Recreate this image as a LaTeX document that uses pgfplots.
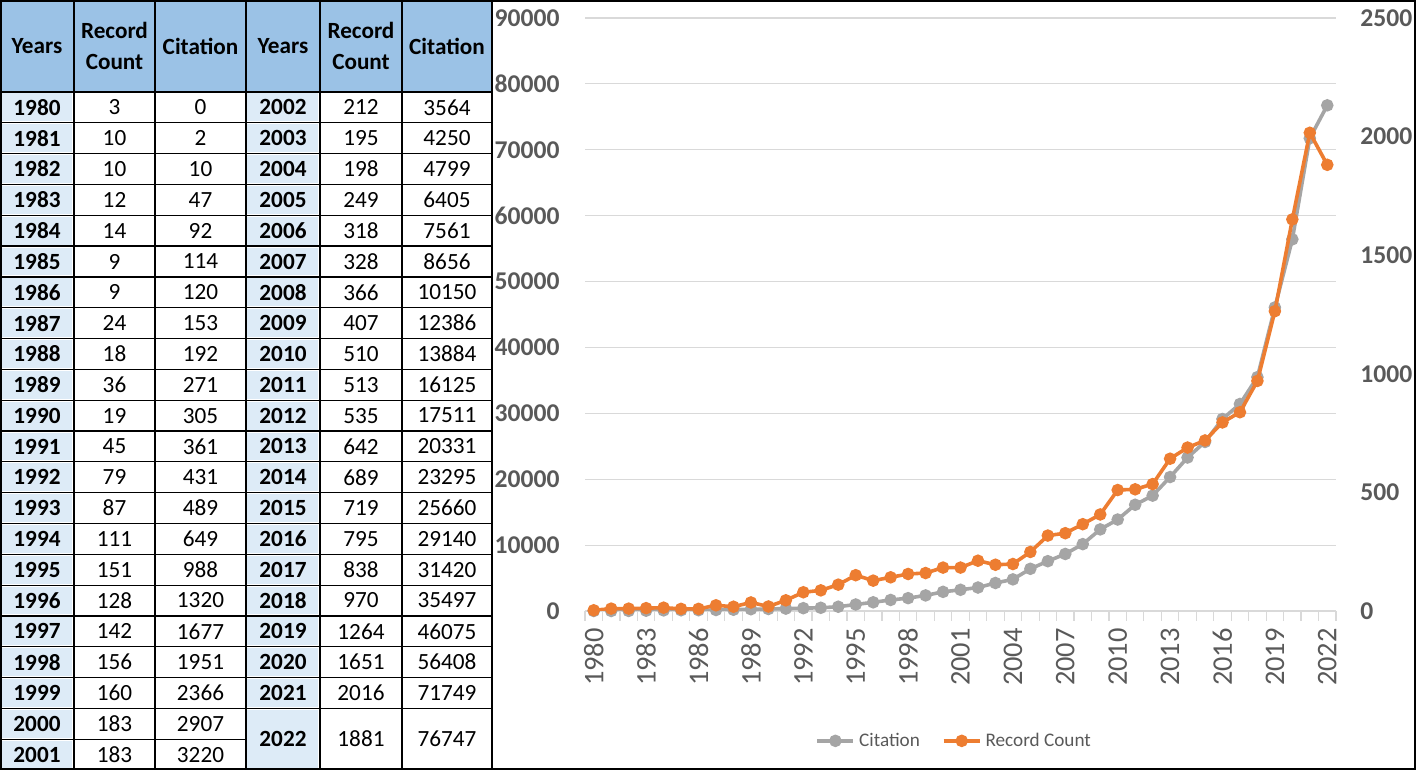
\documentclass[border=0pt]{standalone}
\usepackage{fontspec}
\setmainfont{Carlito}
\usepackage{pgfplots}
\pgfplotsset{compat=1.18}
\usepackage{pgfplotstable}

\definecolor{hdrblue}{RGB}{155,194,230}
\definecolor{yrblue}{RGB}{221,235,247}
\definecolor{citgray}{RGB}{165,165,165}
\definecolor{reco}{RGB}{237,125,49}
\definecolor{lblgray}{RGB}{89,89,89}
\definecolor{gridgray}{RGB}{217,217,217}

\pgfplotstableread{
year record citation
1980 3 0
1981 10 2
1982 10 10
1983 12 47
1984 14 92
1985 9 114
1986 9 120
1987 24 153
1988 18 192
1989 36 271
1990 19 305
1991 45 361
1992 79 431
1993 87 489
1994 111 649
1995 151 988
1996 128 1320
1997 142 1677
1998 156 1951
1999 160 2366
2000 183 2907
2001 183 3220
2002 212 3564
2003 195 4250
2004 198 4799
2005 249 6405
2006 318 7561
2007 328 8656
2008 366 10150
2009 407 12386
2010 510 13884
2011 513 16125
2012 535 17511
2013 642 20331
2014 689 23295
2015 719 25660
2016 795 29140
2017 838 31420
2018 970 35497
2019 1264 46075
2020 1651 56408
2021 2016 71749
2022 1881 76747
}\pubdata

\newcommand{\tabfont}{\fontsize{11.6bp}{15.5bp}\selectfont}
\newcommand{\rh}{30.82}

\begin{document}
\begin{tikzpicture}
\path[use as bounding box] (0,0) rectangle (708bp,385bp);

% ---- table on the left (units: 1 = 0.5bp, y downwards from the top)
\begin{scope}[yshift=385bp, x=0.5bp, y=-0.5bp]
  \fill[hdrblue] (0,0) rectangle (492,92);
  \foreach \i in {0,...,21}
    \fill[yrblue] (1.5,{92+\i*\rh+1.5}) rectangle (72.5,{92+(\i+1)*\rh-1.5});
  \foreach \i in {0,...,19}
    \fill[yrblue] (247.5,{92+\i*\rh+1.5}) rectangle (318.5,{92+(\i+1)*\rh-1.5});
  \fill[yrblue] (247.5,{92+20*\rh+1.5}) rectangle (318.5,768.5);

  \begin{scope}[line width=0.6bp]
    \foreach \x in {74,155,246,320,402}
      \draw (\x,0) -- (\x,770);
    \draw (0,92) -- (492,92);
    \foreach \i in {1,...,21}
      \draw (0,{92+\i*\rh}) -- (246,{92+\i*\rh});
    \foreach \i in {1,...,20}
      \draw (246,{92+\i*\rh}) -- (492,{92+\i*\rh});
  \end{scope}

  \begin{scope}[every node/.style={font=\tabfont, align=center, inner sep=0pt}]
    \foreach \cx/\cc in {37/{Years}, 114.5/{Record\\Count}, 200.5/{Citation},
                         283/{Years}, 361/{Record\\Count}, 447/{Citation}}
      \node[font=\tabfont\bfseries] at (\cx,46) {\cc};
    \foreach \yr/\rc/\ci [count=\i from 0] in {1980/3/0, 1981/10/2, 1982/10/10,
        1983/12/47, 1984/14/92, 1985/9/114, 1986/9/120, 1987/24/153, 1988/18/192,
        1989/36/271, 1990/19/305, 1991/45/361, 1992/79/431, 1993/87/489,
        1994/111/649, 1995/151/988, 1996/128/1320, 1997/142/1677, 1998/156/1951,
        1999/160/2366, 2000/183/2907, 2001/183/3220} {
      \node[font=\tabfont\bfseries] at (37,{92+(\i+0.5)*\rh}) {\yr};
      \node at (114.5,{92+(\i+0.5)*\rh}) {\rc};
      \node at (200.5,{92+(\i+0.5)*\rh}) {\ci};
    }
    \foreach \yr/\rc/\ci [count=\i from 0] in {2002/212/3564, 2003/195/4250,
        2004/198/4799, 2005/249/6405, 2006/318/7561, 2007/328/8656, 2008/366/10150,
        2009/407/12386, 2010/510/13884, 2011/513/16125, 2012/535/17511,
        2013/642/20331, 2014/689/23295, 2015/719/25660, 2016/795/29140,
        2017/838/31420, 2018/970/35497, 2019/1264/46075, 2020/1651/56408,
        2021/2016/71749} {
      \node[font=\tabfont\bfseries] at (283,{92+(\i+0.5)*\rh}) {\yr};
      \node at (361,{92+(\i+0.5)*\rh}) {\rc};
      \node at (447,{92+(\i+0.5)*\rh}) {\ci};
    }
    \node[font=\tabfont\bfseries] at (283,739) {2022};
    \node at (361,739) {1881};
    \node at (447,739) {76747};
  \end{scope}
\end{scope}

% ---- chart on the right
\pgfplotsset{
  chartbase/.style={
    at={(292.5bp,79.5bp)}, anchor=south west,
    scale only axis, width=375.5bp, height=296.5bp,
    xmin=1979.5, xmax=2022.5, ymin=0,
    axis line style={draw=none},
    major tick length=0pt,
    scaled y ticks=false,
    /pgf/number format/1000 sep={},
    /pgf/number format/assume math mode=true,
  },
}

\begin{axis}[chartbase,
  ymax=90000,
  ytick={0,10000,...,90000},
  xtick={1980,1983,...,2022},
  minor xtick={1979.5,1980.5,...,2022.5},
  minor tick length=5bp, tick align=outside,
  xtick pos=left, ytick pos=left,
  minor tick style={gridgray, line width=0.6bp},
  ymajorgrids, grid style={gridgray, line width=0.6bp},
  yticklabel style={font=\fontsize{12.8bp}{15bp}\selectfont\bfseries,
    text=lblgray, inner sep=0pt, xshift=-12.5bp},
  xticklabel style={font=\fontsize{14.2bp}{17bp}\selectfont,
    text=lblgray, inner sep=0pt, yshift=-8.5bp, rotate=90, anchor=east},
  legend style={draw=none, fill=none, at={(0.493,-0.219)}, anchor=center,
    legend columns=2, font=\fontsize{9.6bp}{12bp}\selectfont, text=lblgray,
    /tikz/every even column/.append style={column sep=9bp}},
  legend image code/.code={\draw[mark repeat=2,mark phase=2]
    plot coordinates {(0bp,0bp)(9bp,0bp)(18bp,0bp)};},
]
\addplot[citgray, line width=1.8bp, mark=*, mark size=2.2bp,
  mark options={fill=citgray, draw=citgray}]
  table[x=year, y=citation] {\pubdata};
\addlegendentry{Citation}
\addlegendimage{reco, line width=1.8bp, mark=*, mark size=2.2bp,
  mark options={fill=reco, draw=reco}}
\addlegendentry{Record Count}
\end{axis}

\begin{axis}[chartbase,
  ymax=2500,
  ytick={0,500,...,2500},
  hide x axis,
  ytick pos=right, yticklabel pos=right,
  yticklabel style={font=\fontsize{12.8bp}{15bp}\selectfont\bfseries,
    text=lblgray, inner sep=0pt, anchor=west, xshift=12bp},
]
\addplot[reco, line width=1.8bp, mark=*, mark size=2.2bp,
  mark options={fill=reco, draw=reco}]
  table[x=year, y=record] {\pubdata};
\end{axis}

\draw[line width=1bp] (0.5bp,0.5bp) rectangle (707.5bp,384.5bp);
\draw[line width=1bp] (246bp,0) -- (246bp,385bp);
\end{tikzpicture}
\end{document}
